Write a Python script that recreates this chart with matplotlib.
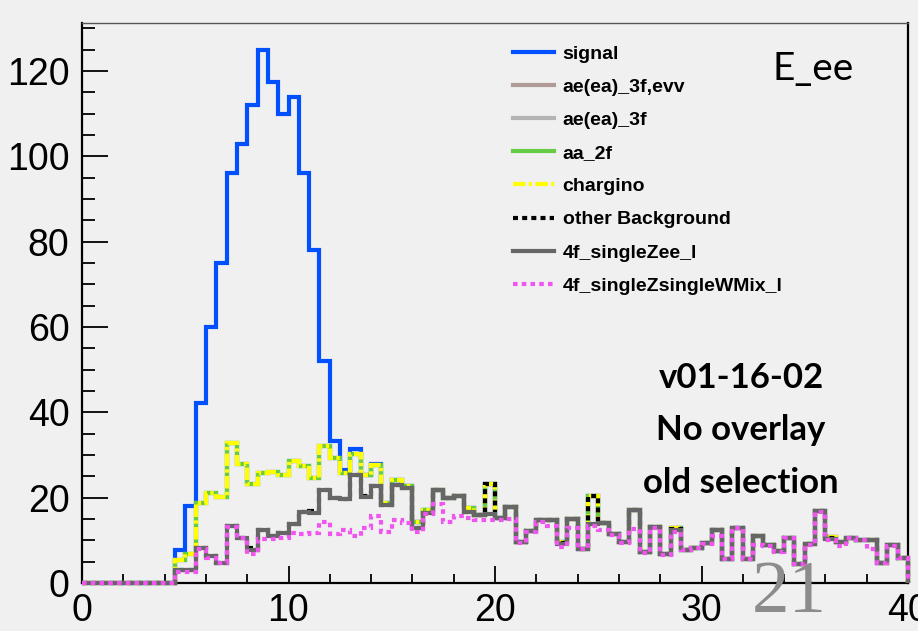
import numpy as np
import matplotlib
matplotlib.use("Agg")
import matplotlib.pyplot as plt
from matplotlib.lines import Line2D
from matplotlib.ticker import MultipleLocator

# ---------------------------------------------------------------- data
# 80 bins of width 0.5 on [0, 40]; per-process contributions of a stacked histogram
bin_edges = np.linspace(0.0, 40.0, 81)

wmix = [0, 0, 0, 0, 0, 0, 0, 0, 0,
        2.6, 2.6, 7.9, 5.8, 4.6, 13.2, 10.5, 6.9, 10.2, 10.3,
        10.6, 11.8, 11.6, 11.8, 14.3, 11.6, 12.5, 11.0, 13.0, 15.7,
        12.0, 14.7, 14.1, 11.9, 16.1, 18.6, 14.3, 15.8, 15.3, 14.7,
        14.7, 14.7, 15.0, 9.4, 12.0, 14.4, 13.3, 8.5, 12.9, 7.9,
        13.4, 12.4, 11.3, 9.4, 12.7, 7.1, 13.0, 6.6, 12.0, 7.7,
        8.1, 9.2, 11.1, 5.6, 12.8, 5.6, 9.0, 8.6, 7.2, 10.5,
        4.4, 9.0, 16.7, 10.0, 8.7, 10.5, 10.0, 7.9, 4.6, 8.7,
        5.8]

zee = [0, 0, 0, 0, 0, 0, 0, 0, 0,
       0.4, 0.4, 0.2, 0.6, 0.2, 0.1, 0.1, 0.8, 2.2, 0.8,
       1.2, 2.0, 5.1, 4.6, 7.5, 8.4, 7.3, 14.3, 7.1, 7.1,
       6.3, 8.2, 8.1, 0.9, 0.2, 3.2, 5.6, 4.6, 1.3, 1.2,
       1.5, 0.5, 2.8, 0.1, 0.1, 0.3, 1.5, 0.7, 2.0, 0.1,
       0.4, 1.6, 0.2, 0.1, 4.3, 0.1, 0.2, 0.2, 0.4, 0.1,
       0.1, 0.2, 1.3, 0.1, 0.1, 0.1, 2.1, 0.2, 0.3, 0.1,
       0.1, 0.1, 0.1, 0.3, 0.9, 0.1, 0.1, 2.1, 0.1, 0.3,
       0.1]

other = [0, 0, 0, 0, 0, 0, 0, 0, 0,
         0, 0, 0, 0, 0, 0, 0, 0.5, 0, 0,
         0, 0, 0, 0.4, 0, 0, 0, 0, 0.4, 0,
         0, 0, 0, 0, 0, 0, 0, 0, 0, 0,
         7.1, 0, 0, 0, 0, 0, 0, 0.2, 0, 0,
         6.6, 0, 0, 0, 0, 0, 0, 0, 0.3, 0,
         0, 0, 0, 0, 0, 0, 0, 0, 0, 0,
         0, 0, 0, 0.2, 0, 0, 0, 0, 0, 0,
         0]

chargino = [0, 0, 0, 0, 0, 0, 0, 0, 0,
            2.3, 3.8, 10.7, 14.6, 15.4, 19.4, 17.4, 15.1, 13.3, 14.9,
            13.5, 14.8, 10.7, 7.7, 10.2, 9.2, 6.0, 5.0, 4.8, 4.8,
            0.4, 1.2, 0.5, 1.5, 0.9, 0, 0, 0, 1.0, 0,
            0, 0, 0, 0, 0, 0, 0, 0.1, 0, 0,
            0, 0, 0, 0, 0, 0, 0, 0, 0.2, 0,
            0, 0, 0, 0, 0, 0, 0, 0, 0, 0,
            0, 0, 0, 0.2, 0, 0, 0, 0, 0, 0,
            0]

aa_2f = [0.0] * 80
ae_3f = [0.0] * 80
ae_3f_evv = [0.0] * 80

signal = [0, 0, 0, 0, 0, 0, 0, 0, 0,
          2.5, 11.2, 23.5, 39.0, 54.8, 63.3, 75.0, 88.7, 99.3, 91.5,
          84.7, 85.4, 68.6, 53.5, 20.0, 4.1, 0.6, 1.0, 0, 0.4,
          0, 0, 0, 0, 0, 0, 0, 0, 0, 0,
          0, 0, 0, 0, 0, 0, 0, 0, 0, 0,
          0, 0, 0, 0, 0, 0, 0, 0, 0, 0,
          0, 0, 0, 0, 0, 0, 0, 0, 0, 0,
          0, 0, 0, 0, 0, 0, 0, 0, 0, 0,
          0]

legend_labels = ["signal", "ae(ea)_3f,evv", "ae(ea)_3f", "aa_2f", "chargino",
                 "other Background", "4f_singleZee_l", "4f_singleZsingleWMix_l"]

x_ticks = [0, 10, 20, 30, 40]
y_ticks = [0, 20, 40, 60, 80, 100, 120]

# ---------------------------------------------------------------- styles
BG = "#f0f0f0"
LW = 3.0
styles = {
    "signal":                 dict(color="#0050ff", linestyle="-"),
    "ae(ea)_3f,evv":          dict(color="#b09c96", linestyle="-"),
    "ae(ea)_3f":              dict(color="#b4b4b4", linestyle="-"),
    "aa_2f":                  dict(color="#66cc44", linestyle="-"),
    "chargino":               dict(color="#ffff00", linestyle=(0, (3.0, 0.8, 0.8, 0.8))),
    "other Background":       dict(color="#000000", linestyle=(0, (1.2, 1.0))),
    "4f_singleZee_l":         dict(color="#666666", linestyle="-"),
    "4f_singleZsingleWMix_l": dict(color="#f055f0", linestyle=(0, (1.1, 1.0))),
}

# stack order, bottom to top
stack = [("4f_singleZsingleWMix_l", wmix), ("4f_singleZee_l", zee),
         ("other Background", other), ("chargino", chargino),
         ("aa_2f", aa_2f), ("ae(ea)_3f", ae_3f), ("ae(ea)_3f,evv", ae_3f_evv),
         ("signal", signal)]

tops = {}
running = np.zeros(80)
for name, vals in stack:
    running = running + np.asarray(vals, dtype=float)
    tops[name] = running.copy()

# ---------------------------------------------------------------- figure
W, H = 918, 631
fig = plt.figure(figsize=(W / 100, H / 100), dpi=100, facecolor=BG)
ax = fig.add_axes([82 / W, 48 / H, 826 / W, 560 / H], facecolor=BG)

# draw the tallest stack first so lower layers sit on top of it
for z, (name, _) in enumerate(reversed(stack)):
    st = styles[name]
    ax.stairs(tops[name], bin_edges, baseline=0, fill=False,
              color=st["color"], linestyle=st["linestyle"], linewidth=LW,
              zorder=3 + z * 0.01, clip_on=False, joinstyle="miter")

ax.set_xlim(0, 40)
ax.set_ylim(0, 131.25)
ax.set_xticks(x_ticks)
ax.set_yticks(y_ticks)
ax.xaxis.set_minor_locator(MultipleLocator(2))
ax.yaxis.set_minor_locator(MultipleLocator(5))
ax.tick_params(axis="both", which="both", direction="in", width=1.3,
               color="black", labelsize=27, top=False, right=False)
ax.tick_params(axis="x", which="major", length=12.5, pad=7)
ax.tick_params(axis="x", which="minor", length=6.5)
ax.tick_params(axis="y", which="major", length=18.7, pad=9)
ax.tick_params(axis="y", which="minor", length=9.4)
for lab in ax.get_xticklabels() + ax.get_yticklabels():
    lab.set_fontfamily("Liberation Sans")

for side in ("left", "bottom", "right"):
    ax.spines[side].set_linewidth(1.6)
    ax.spines[side].set_color("black")
ax.spines["top"].set_linewidth(1.0)
ax.spines["top"].set_color("#555555")

# legend
handles = [Line2D([], [], color=styles[n]["color"], linestyle=styles[n]["linestyle"],
                  linewidth=LW) for n in legend_labels]
fig.legend(handles, legend_labels, loc="upper left",
           bbox_to_anchor=(513 / W, 1 - 45 / H), bbox_transform=fig.transFigure,
           frameon=False, borderpad=0, borderaxespad=0,
           handlelength=2.1, handletextpad=0.45, labelspacing=0.8,
           prop=dict(family="Liberation Sans", weight="bold", size=14))

# annotations
fig.text(773 / W, 1 - 80 / H, "E_ee", family="Lato", fontsize=28,
         ha="left", va="baseline", color="black")
for txt, base in (("v01-16-02", 388), ("No overlay", 440), ("old selection", 493)):
    fig.text(741 / W, 1 - base / H, txt, family="Lato", weight="bold",
             fontsize=25, ha="center", va="baseline", color="black")

fig.text(789 / W, 1 - 612 / H, "21", family="Liberation Serif", fontsize=54,
         ha="center", va="baseline", color="#8c8c8c", zorder=10)

fig.savefig("out.png", dpi=100, facecolor=BG)
